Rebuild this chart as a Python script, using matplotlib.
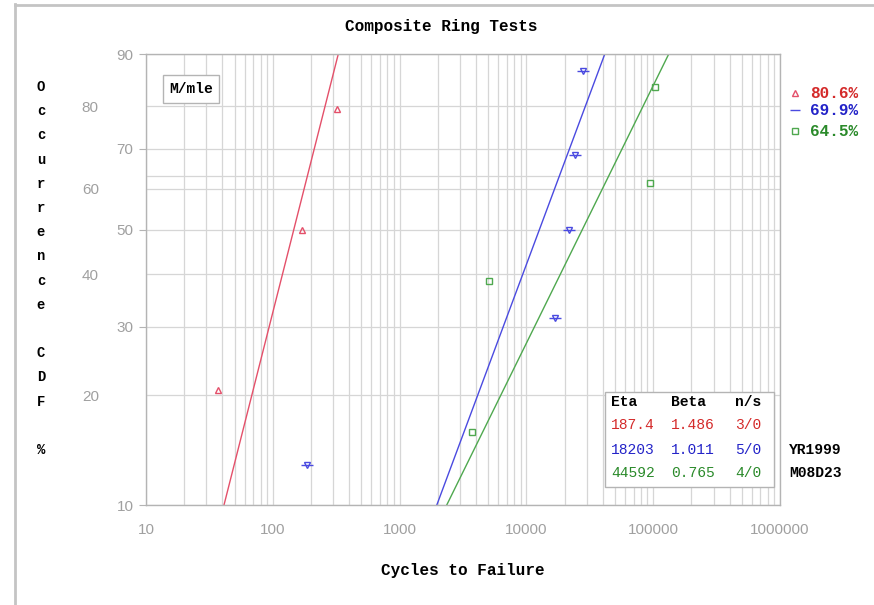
import numpy as np
import matplotlib.pyplot as plt
import matplotlib.lines as mlines
import matplotlib.patches as mpatches

# points: cycles to failure and median-rank CDF (%)
red_cycles = [37, 170, 321]
red_cdf = [20.6, 50.0, 79.4]
blue_cycles = [186, 16800, 21700, 24200, 27900]
blue_cdf = [12.9, 31.5, 50.0, 68.5, 87.1]
green_cycles = [3700, 5100, 94400, 103900]
green_cdf = [15.9, 38.6, 61.4, 84.1]

# weibull fits from the table
etas = [187.4, 18203, 44592]
betas = [1.486, 1.011, 0.765]
eta_txt = ["187.4", "18203", "44592"]
beta_txt = ["1.486", "1.011", "0.765"]
n_s = ["3/0", "5/0", "4/0"]
fit_pct = ["80.6%", "69.9%", "64.5%"]

y_major = [10, 30, 50, 70, 90]
y_minor = [20, 40, 60, 80]
x_ticks = [10, 100, 1000, 10000, 100000, 1000000]
x_labels = ["10", "100", "1000", "10000", "100000", "1000000"]

line_cols = ["#e4506a", "#4a4ae0", "#4fa84f"]
text_cols = ["#d42a2a", "#2323c8", "#2a8a2a"]
GRAY = "#a0a0a0"
MONO = "Liberation Mono"

W, H = 874, 605


def fx(px):
    return px / W


def fy(py):
    return 1 - py / H


def fwd(p):
    p = np.clip(np.asarray(p, dtype=float), 1e-6, 99.9999)
    return np.log(-np.log(1 - p / 100.0))


def inv(w):
    return 100.0 * (1 - np.exp(-np.exp(w)))


fig = plt.figure(figsize=(W / 100, H / 100), dpi=100)
fig.patch.set_facecolor("white")
ax = fig.add_axes([fx(146), fy(505), fx(780 - 146), (505 - 54) / H])

ax.set_xscale("log")
ax.set_yscale("function", functions=(fwd, inv))
ax.set_xlim(10, 1000000)
ax.set_ylim(10, 90)

# grid
ax.set_xticks(x_ticks)
ax.set_xticklabels(x_labels)
ax.set_xticks([m * d for d in x_ticks[:-1] for m in range(2, 10)], minor=True)
ax.xaxis.set_minor_formatter(plt.NullFormatter())
ax.set_yticks(y_major)
ax.set_yticklabels([str(v) for v in y_major])
ax.set_yticks(y_minor, minor=True)
ax.set_yticklabels([str(v) for v in y_minor], minor=True)
ax.grid(True, which="both", color="#d6d6d6", lw=0.9)
ax.axhline(63.2, color="#d6d6d6", lw=0.9)
ax.set_axisbelow(True)

for s in ax.spines.values():
    s.set_color("#b4b4b4")
    s.set_linewidth(1.0)

ax.tick_params(axis="x", which="both", length=0, pad=13, labelcolor=GRAY, labelsize=11)
ax.tick_params(axis="y", which="major", length=5, color="#b4b4b4", pad=4,
               labelcolor=GRAY, labelsize=11)
ax.tick_params(axis="y", which="minor", length=0, pad=34, labelcolor=GRAY, labelsize=11)
for lab in ax.get_xticklabels() + ax.get_yticklabels() + ax.get_yticklabels(minor=True):
    lab.set_fontfamily("Liberation Sans")

# fitted lines
F = np.array([10.0, 90.0])
for eta, beta, c in zip(etas, betas, line_cols):
    ax.plot(eta * (-np.log(1 - F / 100)) ** (1 / beta), F, color=c, lw=1.0)

# data points
ax.plot(red_cycles, red_cdf, ls="none", marker="^", ms=5, mfc="none", mec=line_cols[0], mew=1)
ax.plot(blue_cycles, blue_cdf, ls="none", marker="v", ms=4, mfc="none", mec=line_cols[1], mew=1)
ax.plot(blue_cycles, blue_cdf, ls="none", marker="_", ms=8, mec=line_cols[1], mew=1)
ax.plot(green_cycles, green_cdf, ls="none", marker="s", ms=5, mfc="none", mec=line_cols[2], mew=1)

# titles
fig.text(fx(441), fy(27), "Composite Ring Tests", family=MONO, weight="bold",
         fontsize=11.5, ha="center", va="center")
ax.set_xlabel("Cycles to Failure", family=MONO, weight="bold", fontsize=11.5)
ax.xaxis.set_label_coords(0.5, -(570 - 505) / 451)
ax.xaxis.label.set_va("center")
for i, ch in enumerate("Occurrence CDF %"):
    if ch != " ":
        fig.text(fx(41), fy(87 + i * 24.2), ch, family=MONO, weight="bold",
                 fontsize=10, ha="center", va="center")

# M/mle box
fig.text(fx(191), fy(89), "M/mle", family=MONO, weight="bold", fontsize=10.5,
         ha="center", va="center",
         bbox=dict(boxstyle="square,pad=0.45", fc="white", ec="#b4b4b4", lw=1))

# right side legend
leg_y = [93, 110, 131]
leg_mk = ["^", "_", "s"]
for y, mk, c, tc, txt in zip(leg_y, leg_mk, line_cols, text_cols, fit_pct):
    fig.add_artist(mlines.Line2D([fx(795)], [fy(y)], marker=mk, ms=5 if mk != "_" else 7,
                                 mfc="none", mec=c, mew=1, ls="none"))
    fig.text(fx(810), fy(y), txt, family=MONO, weight="bold", fontsize=11.5,
             color=tc, ha="left", va="center")

# parameter table
fig.add_artist(mpatches.Rectangle((fx(605), fy(487)), fx(774 - 605), (487 - 392) / H,
                                  transform=fig.transFigure, fc="white", ec="#b4b4b4", lw=1))
col_x = [611, 671, 735]
for x, h in zip(col_x, ["Eta", "Beta", "n/s"]):
    fig.text(fx(x), fy(402), h, family=MONO, weight="bold", fontsize=10.5,
             ha="left", va="center")
row_y = [425, 450, 473]
for y, e, b, n, tc in zip(row_y, eta_txt, beta_txt, n_s, text_cols):
    for x, t in zip(col_x, [e, b, n]):
        fig.text(fx(x), fy(y), t, family=MONO, fontsize=10.5, color=tc,
                 ha="left", va="center")
fig.text(fx(789), fy(450), "YR1999", family=MONO, weight="bold", fontsize=10.5,
         ha="left", va="center")
fig.text(fx(789), fy(473), "M08D23", family=MONO, weight="bold", fontsize=10.5,
         ha="left", va="center")

# window edges
fig.add_artist(mlines.Line2D([fx(15.5), fx(15.5)], [0, fy(4)], color="#c4c4c4", lw=2))
fig.add_artist(mlines.Line2D([fx(15.5), 1], [fy(4.5), fy(4.5)], color="#c4c4c4", lw=2))

fig.savefig("out.png", dpi=100)
